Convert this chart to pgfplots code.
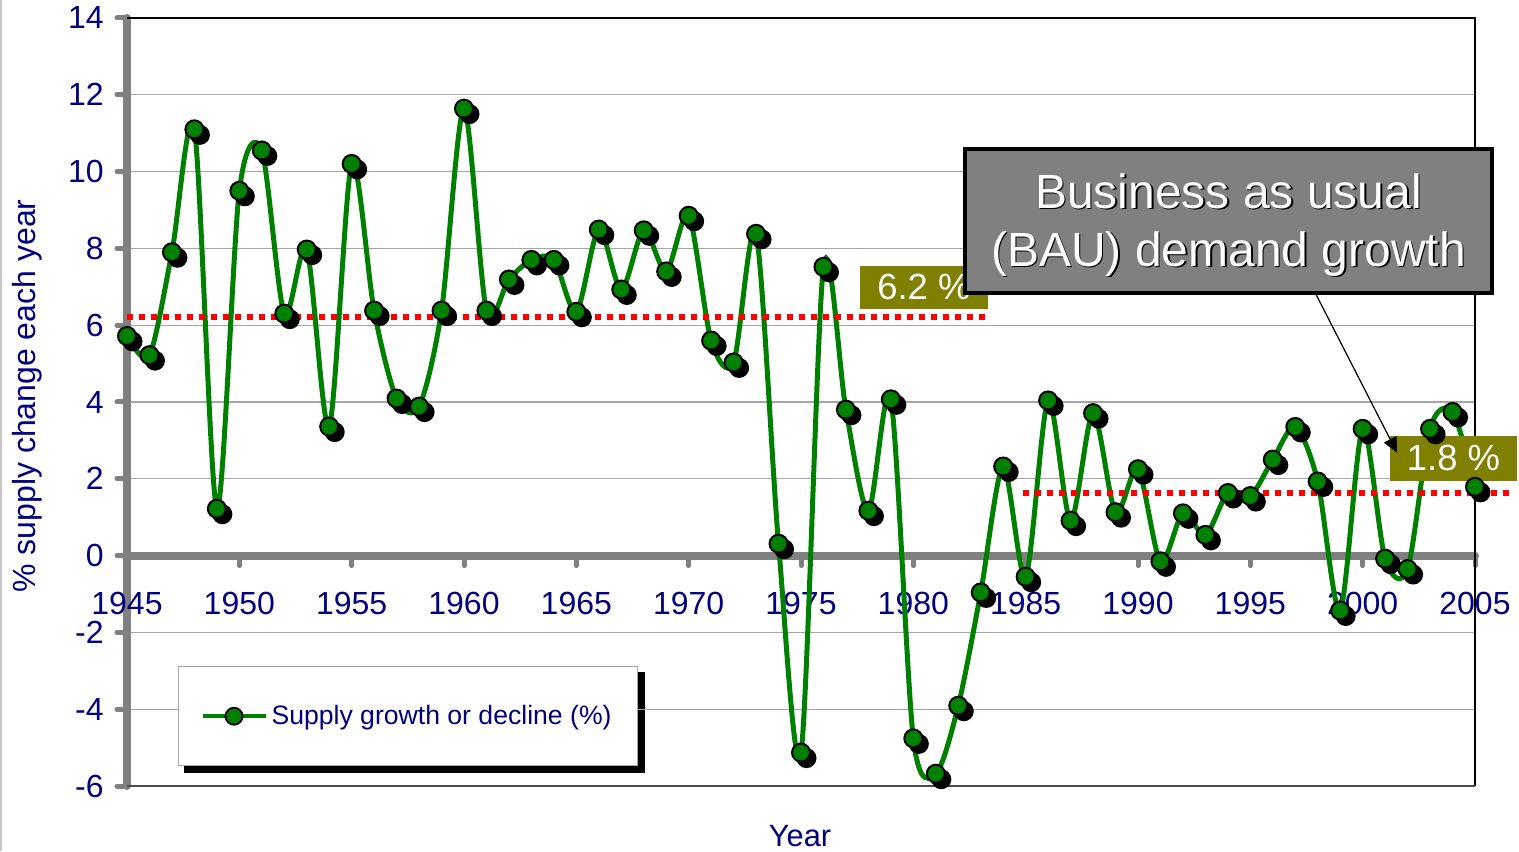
\documentclass[border=0pt]{standalone}
\usepackage{fontspec}
\setmainfont{Liberation Sans}
\usepackage{pgfplots}
\pgfplotsset{compat=1.18}
\usepackage{pgfplotstable}
\usetikzlibrary{arrows.meta,backgrounds}

\definecolor{grn}{HTML}{008000}
\definecolor{navy}{HTML}{000080}
\definecolor{olv}{HTML}{808000}
\definecolor{axgray}{HTML}{808080}

% annual supply change, %
\pgfplotstableread{
year val
1945 5.72
1946 5.22
1947 7.90
1948 11.10
1949 1.22
1950 9.50
1951 10.55
1952 6.30
1953 7.97
1954 3.36
1955 10.20
1956 6.38
1957 4.09
1958 3.88
1959 6.38
1960 11.64
1961 6.38
1962 7.19
1963 7.70
1964 7.70
1965 6.35
1966 8.49
1967 6.93
1968 8.47
1969 7.40
1970 8.85
1971 5.60
1972 5.03
1973 8.38
1974 0.31
1975 -5.13
1976 7.52
1977 3.80
1978 1.17
1979 4.07
1980 -4.76
1981 -5.68
1982 -3.91
1983 -0.96
1984 2.32
1985 -0.55
1986 4.04
1987 0.91
1988 3.71
1989 1.13
1990 2.25
1991 -0.15
1992 1.10
1993 0.54
1994 1.63
1995 1.55
1996 2.50
1997 3.35
1998 1.93
1999 -1.43
2000 3.30
2001 -0.08
2002 -0.35
2003 3.30
2004 3.74
2005 1.79
}\supply

\begin{document}
\begin{tikzpicture}
\path[use as bounding box] (0,0) rectangle (759.5pt,425.5pt);
\draw[gray!45, line width=0.8pt] (0.4pt,0) -- (0.4pt,425.5pt);
\begin{axis}[
    scale only axis, width=674pt, height=384pt,
    at={(63.5pt,32.5pt)}, anchor=south west,
    xmin=1945, xmax=2005, ymin=-6, ymax=14,
    enlargelimits=false, clip=false,
    axis x line=middle, axis y line=left,
    axis line style={-, draw=axgray, line width=4pt, line cap=round},
    hide obscured x ticks=false, hide obscured y ticks=false,
    xtick={1945,1950,...,2005}, ytick={-6,-4,...,14},
    scaled x ticks=false,
    /pgf/number format/1000 sep={},
    /pgf/number format/assume math mode=true,
    tick align=outside, major tick length=5pt,
    tick style={draw=axgray, line width=2.5pt, line cap=round},
    xticklabel style={font=\fontsize{16}{18}\selectfont, text=navy, anchor=base, yshift=-24.5pt, inner sep=0pt},
    yticklabel style={font=\fontsize{16}{18}\selectfont, text=navy, anchor=east, xshift=-6.5pt, inner sep=0pt},
    ymajorgrids, grid style={draw=gray!70, line width=0.6pt},
    xlabel={Year},
    every axis x label/.style={at={(axis description cs:0.4993,-0.0651)}, anchor=center, font=\fontsize{15.4}{18}\selectfont, text=navy},
    ylabel={\% supply change each year},
    every axis y label/.style={at={(axis description cs:-0.0742,0.5078)}, rotate=90, anchor=center, font=\fontsize{16}{19}\selectfont, text=navy},
    legend style={name=leg, at={(axis description cs:0.0378,0.15625)}, anchor=north west,
        draw=gray!70, line width=0.6pt, fill=white, text=navy,
        font=\fontsize{13.3}{16}\selectfont, inner xsep=11pt, inner ysep=17.25pt},
    legend cell align=left,
    legend image code/.code={\draw[mark repeat=2,mark phase=2,#1] plot coordinates {(0pt,0pt) (15.75pt,0pt) (31.5pt,0pt)};},
]
% plot frame
\draw[black, line width=0.6pt] (rel axis cs:0,1) -- (rel axis cs:1,1) -- (rel axis cs:1,0);
\draw[gray!60!black, line width=0.6pt] (rel axis cs:0,0) -- (rel axis cs:1,0);

\addplot[grn, line width=2.5pt, smooth, tension=0.5, no marks, forget plot] table[x=year, y=val] {\supply};

% average growth levels
\addplot[red, line width=3pt, dash pattern=on 3pt off 3pt, forget plot] coordinates {(1945,6.22) (1983.3,6.22)};
\addplot[red, line width=3pt, dash pattern=on 3pt off 3pt, forget plot] coordinates {(1984.9,1.64) (2006.5,1.64)};

% marker shadows, then markers
\addplot[only marks, mark=*, mark size=4.5pt, mark options={fill=black, draw=black, line width=1pt, xshift=2.75pt, yshift=-2.75pt}, forget plot] table[x=year, y=val] {\supply};
\addplot[only marks, mark=*, mark size=4.5pt, mark options={fill=grn, draw=black, line width=1pt}, forget plot] table[x=year, y=val] {\supply};

\addlegendimage{grn, line width=2pt, mark=*, mark size=4.25pt, mark options={fill=grn, draw=black, line width=0.9pt}}
\addlegendentry{Supply growth or decline (\%)}

\node[fill=olv, text=white, font=\fontsize{18.2}{20}\selectfont, minimum width=64pt, minimum height=21.5pt, inner sep=0pt] at (axis cs:1980.47,6.99) {6.2 \%};
\node[fill=olv, text=white, font=\fontsize{18.2}{20}\selectfont, minimum width=63.5pt, minimum height=22.5pt, inner sep=0pt] at (axis cs:2004.04,2.54) {1.8 \%};

\draw[black, line width=0.6pt, -{Triangle[length=7.5pt, width=7pt]}] (axis cs:1997.4,7.4) -- (axis cs:2001.53,2.68);
\node[fill=axgray, draw=black, line width=2pt, minimum width=263.5pt, minimum height=72pt, inner sep=0pt] at (axis cs:1994.03,8.72) {};
\node[text=black, align=center, font=\fontsize{24}{29}\selectfont, yshift=-2pt] at ([xshift=0.8pt,yshift=-0.8pt]axis cs:1994.03,8.72) {Business as usual\\(BAU) demand growth};
\node[text=white, align=center, font=\fontsize{24}{29}\selectfont, yshift=-2pt] at (axis cs:1994.03,8.72) {Business as usual\\(BAU) demand growth};
\end{axis}
\begin{scope}[on background layer]
\fill[black] ([xshift=3.25pt,yshift=-3.25pt]leg.south west) rectangle ([xshift=3.25pt,yshift=-3.25pt]leg.north east);
\end{scope}
\end{tikzpicture}
\end{document}
